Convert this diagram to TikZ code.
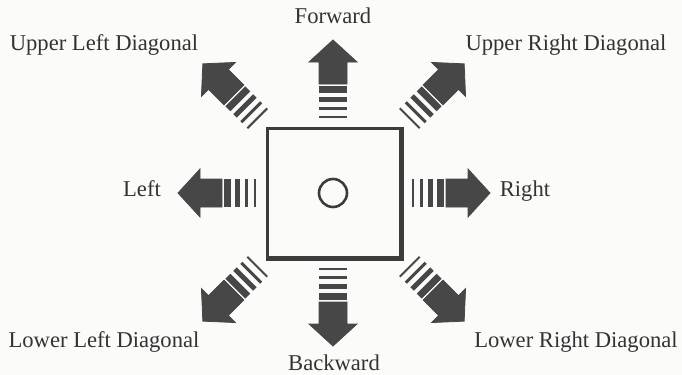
\documentclass[tikz,border=0pt]{standalone}
\usepackage{fontspec}
\setmainfont{Liberation Serif}
\usepackage{tikz}
\usetikzlibrary{positioning}
\definecolor{ink}{HTML}{474747}
\definecolor{boxink}{HTML}{3C3C3C}
\definecolor{paper}{HTML}{FBFBFA}

\begin{document}
\begin{tikzpicture}[
    x=0.5pt, y=-0.5pt,
    lbl/.style={anchor=base, text=black!80, inner sep=0pt, font=\fontsize{11.3}{13}\selectfont},
    bar/.style={fill=ink, draw=none},
    body/.style={fill=ink, draw=ink, line width=0.4pt, line join=miter},
  ]
    \fill[paper] (0,0) rectangle (682,375);
    \useasboundingbox (0,0) rectangle (682,375);

    % ---------- control box ----------
    \draw[boxink, line width=1.5pt] (267,128) rectangle (400,257);
    \draw[boxink, line width=2.2pt] (401.5,126.5) -- (401.5,258.5) -- (265.5,258.5);
    \node[draw=boxink, circle, line width=1.3pt, minimum size=14pt, inner sep=0pt] (knob) at (333,193) {};

    % ---------- direction arrows ----------
    \coordinate (fw) at (333,118);
    \coordinate (bw) at (333,268);
    \coordinate (lf) at (256,193);
    \coordinate (rt) at (412,193);
    \coordinate (ul) at (258,119);
    \coordinate (ur) at (409,119);
    \coordinate (ll) at (258,266);
    \coordinate (lr) at (409,266);
    \foreach \p/\a in {fw/90, bw/-90, lf/180, rt/0, ul/135, ur/45, ll/-135, lr/-45} {
      \begin{scope}[shift={(\p)}, rotate=\a]
        \fill[bar] (0,-14) rectangle (2,14);
        \fill[bar] (8,-14) rectangle (11,14);
        \fill[bar] (16,-14) rectangle (21,14);
        \fill[bar] (25,-14) rectangle (32,14);
        \filldraw[body] (34,-14) -- (56,-14) -- (56,-24) -- (78,0)
          -- (56,24) -- (56,14) -- (34,14) -- cycle;
      \end{scope}
    }

    % ---------- labels ----------
    \node[lbl] (tfw) at (333,24)  {Forward};
    \node[lbl] (tbw) at (334,370) {Backward};
    \node[lbl] (tlf) at (142,197) {Left};
    \node[lbl] (trt) at (525,197) {Right};
    \node[lbl] (tul) at (104,50)  {Upper Left Diagonal};
    \node[lbl] (tur) at (566,50)  {Upper Right Diagonal};
    \node[lbl] (tll) at (104,347) {Lower Left Diagonal};
    \node[lbl] (tlr) at (576,347) {Lower Right Diagonal};
\end{tikzpicture}
\end{document}
